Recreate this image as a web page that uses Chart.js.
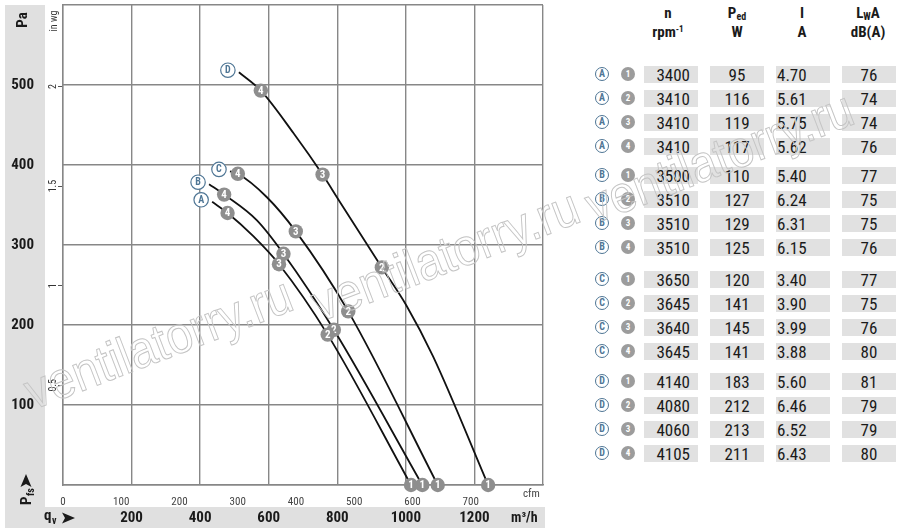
<!DOCTYPE html>
<html>
<head>
<meta charset="utf-8">
<title>Fan curves</title>
<script src="https://cdn.jsdelivr.net/npm/chart.js@4.4.1/dist/chart.umd.min.js"></script>
<style>
    html, body { margin: 0; padding: 0; background: #fff; }
    body {
        width: 900px; height: 528px; position: relative; overflow: hidden;
        font-family: 'Liberation Sans Narrow', 'Roboto Condensed', 'Liberation Sans', sans-serif;
        color: #1a1a1a;
    }
    #chartBox { position: absolute; left: 0; top: 0; width: 548px; height: 528px; }
    .hd { position: absolute; width: 70px; text-align: center; font-weight: bold; font-size: 15px; line-height: 19px; }
    .hd sup { font-size: 9px; vertical-align: 5px; line-height: 0; }
    .hd sub { font-size: 10px; vertical-align: -2px; line-height: 0; }
    .cell { position: absolute; width: 54px; height: 17px; background: #e1e1e1; font-size: 17px; line-height: 18px; box-sizing: border-box; }
    .mk { position: absolute; border-radius: 50%; box-sizing: border-box; text-align: center; font-weight: bold; }
    .mk.fan { width: 14px; height: 14px; border: 1.2px solid #4f7695; color: #4f7695; background: #fff; font-size: 10px; line-height: 12px; }
    .mk.op { width: 14px; height: 14px; background: #9c9c9c; color: #fff; font-size: 9px; line-height: 14px; }
    #wm { position: absolute; left: 0; top: 0; pointer-events: none; }
</style>
</head>
<body>
<div id="chartBox"><canvas id="fanChart"></canvas></div>
<div id="table"></div>
<svg id="wm" width="900" height="528">
    <g font-family="'Liberation Sans Narrow', 'Liberation Sans', sans-serif" font-size="52" fill="none" stroke="#c4c4c4" stroke-width="1">
        <text x="33" y="410" transform="rotate(-21 33 410)" textLength="282" lengthAdjust="spacingAndGlyphs">ventilatorry.ru</text>
        <text x="320" y="322" transform="rotate(-21 320 322)" textLength="282" lengthAdjust="spacingAndGlyphs">ventilatorry.ru</text>
        <text x="594" y="224" transform="rotate(-21 594 224)" textLength="282" lengthAdjust="spacingAndGlyphs">ventilatorry.ru</text>
    </g>
</svg>
<script>
// --- curves: flow q_v in m³/h, pressure p_fs in Pa
const curveFlowA = [435, 480, 555, 630, 772, 1015];
const curvePressA = [354, 340, 311, 276, 188, 0];
const curveFlowB = [426, 470, 565, 643, 790, 1048];
const curvePressB = [376, 363, 331, 289, 194, 0];
const curveFlowC = [487, 510, 594, 679, 832, 1093];
const curvePressC = [392, 389, 360, 317, 217, 0];
const curveFlowD = [513, 577, 672, 757, 803, 930, 1002, 1079, 1240];
const curvePressD = [516, 493, 440, 388, 357, 272, 224, 161, 0];

// operating points 1..4 on each curve
const opFlowA = [1015, 772, 630, 480];
const opPressA = [0, 188, 276, 340];
const opFlowB = [1048, 790, 643, 470];
const opPressB = [0, 194, 289, 363];
const opFlowC = [1093, 832, 679, 510];
const opPressC = [0, 217, 317, 389];
const opFlowD = [1240, 930, 757, 577];
const opPressD = [0, 272, 388, 493];

// axis ticks
const flowTicks = [200, 400, 600, 800, 1000, 1200];
const cfmTicks = [0, 100, 200, 300, 400, 500, 600, 700];
const pressTicks = [100, 200, 300, 400, 500];
const inwgTicks = [0.5, 1, 1.5, 2];

// table
const tableFans = ['A', 'A', 'A', 'A', 'B', 'B', 'B', 'B', 'C', 'C', 'C', 'C', 'D', 'D', 'D', 'D'];
const tablePoints = [1, 2, 3, 4, 1, 2, 3, 4, 1, 2, 3, 4, 1, 2, 3, 4];
const rpmValues = [3400, 3410, 3410, 3410, 3500, 3510, 3510, 3510, 3650, 3645, 3640, 3645, 4140, 4080, 4060, 4105];
const powerValues = [95, 116, 119, 117, 110, 127, 129, 125, 120, 141, 145, 141, 183, 212, 213, 211];
const currentValues = ['4.70', '5.61', '5.75', '5.62', '5.40', '6.24', '6.31', '6.15', '3.40', '3.90', '3.99', '3.88', '5.60', '6.46', '6.52', '6.43'];
const soundValues = [76, 74, 74, 76, 77, 75, 75, 76, 77, 75, 76, 80, 81, 79, 79, 80];

const FONT = "'Liberation Sans Narrow', 'Roboto Condensed', 'Liberation Sans', sans-serif";
const PA_PER_INWG = 249.089;
const M3H_PER_CFM = 1.69901;
const FLOW_MAX = 1400;
const PRESS_MAX = 600;

const curves = [
    { letter: 'A', flow: curveFlowA, press: curvePressA, opFlow: opFlowA, opPress: opPressA },
    { letter: 'B', flow: curveFlowB, press: curvePressB, opFlow: opFlowB, opPress: opPressB },
    { letter: 'C', flow: curveFlowC, press: curvePressC, opFlow: opFlowC, opPress: opPressC },
    { letter: 'D', flow: curveFlowD, press: curvePressD, opFlow: opFlowD, opPress: opPressD }
];

/**
 * Build the data table on the right
 */
function buildTable() {
    const table = document.getElementById('table');
    const headers = [
        { x: 668, html: 'n<br>rpm<sup>-1</sup>' },
        { x: 737, html: 'P<sub>ed</sub><br>W' },
        { x: 802, html: 'I<br>A' },
        { x: 868, html: 'L<sub>W</sub>A<br>dB(A)' }
    ];
    headers.forEach(h => {
        const d = document.createElement('div');
        d.className = 'hd';
        d.style.left = (h.x - 35) + 'px';
        d.style.top = '4px';
        d.innerHTML = h.html;
        table.appendChild(d);
    });

    const groupCentres = [74, 175, 279, 381];
    const cellLeft = [644, 710, 776, 842];
    const cellAlign = ['right', 'center', 'left', 'center'];
    const cellPad = ['0 8px 0 0', '0', '0 0 0 1px', '0'];

    tableFans.forEach((fan, i) => {
        const cy = groupCentres[Math.floor(i / 4)] + 24 * (i % 4);

        const fm = document.createElement('div');
        fm.className = 'mk fan';
        fm.style.left = (602 - 7) + 'px';
        fm.style.top = (cy - 7) + 'px';
        fm.textContent = fan;
        table.appendChild(fm);

        const om = document.createElement('div');
        om.className = 'mk op';
        om.style.left = (628 - 7) + 'px';
        om.style.top = (cy - 7) + 'px';
        om.textContent = tablePoints[i];
        table.appendChild(om);

        [rpmValues[i], powerValues[i], currentValues[i], soundValues[i]].forEach((v, c) => {
            const cell = document.createElement('div');
            cell.className = 'cell';
            cell.style.left = cellLeft[c] + 'px';
            cell.style.top = (cy - 8.5) + 'px';
            cell.style.textAlign = cellAlign[c];
            cell.style.padding = cellPad[c];
            cell.textContent = v;
            table.appendChild(cell);
        });
    });
}

function arrowHead(ctx, cx, cy, angle) {
    ctx.save();
    ctx.translate(cx, cy);
    ctx.rotate(angle);
    ctx.beginPath();
    ctx.moveTo(7, 0);
    ctx.lineTo(-6, -5.5);
    ctx.lineTo(-3, 0);
    ctx.lineTo(-6, 5.5);
    ctx.closePath();
    ctx.fillStyle = '#1a1a1a';
    ctx.fill();
    ctx.restore();
}

// no extra label padding at the ends of an axis
function noEndPadding(s) {
    s.paddingTop = 0;
    s.paddingBottom = 0;
    s.paddingLeft = 0;
    s.paddingRight = 0;
}

/**
 * Grey bands behind the Pa and m³/h labels
 */
const bandPlugin = {
    id: 'bands',
    beforeDraw(chart) {
        const ctx = chart.ctx;
        const xs = chart.scales.x;
        ctx.save();
        ctx.fillStyle = '#e0e0e0';
        ctx.fillRect(5, 5, 40, chart.height - 5);
        ctx.fillRect(5, xs.top + 1, 540, chart.height - xs.top - 1);
        ctx.restore();
    }
};

/**
 * Operating point markers, fan letters and axis captions
 */
const markerPlugin = {
    id: 'markers',
    afterDatasetsDraw(chart) {
        const ctx = chart.ctx;
        const xs = chart.scales.x;
        const ys = chart.scales.y;
        ctx.save();
        ctx.textAlign = 'center';
        ctx.textBaseline = 'middle';

        curves.forEach(c => {
            // fan letter at the start of the curve
            const sx = xs.getPixelForValue(c.flow[0]) - 11;
            const sy = ys.getPixelForValue(c.press[0]) - 2;
            ctx.beginPath();
            ctx.arc(sx, sy, 7.2, 0, Math.PI * 2);
            ctx.fillStyle = '#fff';
            ctx.fill();
            ctx.lineWidth = 1.2;
            ctx.strokeStyle = '#4f7695';
            ctx.stroke();
            ctx.fillStyle = '#4f7695';
            ctx.font = 'bold 10px ' + FONT;
            ctx.fillText(c.letter, sx, sy + 0.5);
        });

        curves.slice().reverse().forEach(c => {
            c.opFlow.forEach((f, i) => {
                const px = xs.getPixelForValue(f);
                const py = ys.getPixelForValue(c.opPress[i]);
                ctx.beginPath();
                ctx.arc(px, py, 7.2, 0, Math.PI * 2);
                ctx.fillStyle = '#8e8e8e';
                ctx.fill();
                ctx.fillStyle = '#fff';
                ctx.font = 'bold 11px ' + FONT;
                ctx.fillText(String(i + 1), px, py + 0.5);
            });
        });
        ctx.restore();
    },
    afterDraw(chart) {
        const ctx = chart.ctx;
        const yw = chart.scales.yInwg;
        ctx.save();
        ctx.fillStyle = '#1a1a1a';
        ctx.textAlign = 'center';
        ctx.textBaseline = 'middle';

        // in wg tick labels, rotated
        ctx.fillStyle = '#333';
        ctx.font = '10px ' + FONT;
        inwgTicks.forEach(v => {
            ctx.save();
            ctx.translate(53.5, yw.getPixelForValue(v));
            ctx.rotate(-Math.PI / 2);
            ctx.fillText(String(v), 0, 0);
            ctx.restore();
        });

        // axis captions
        ctx.save();
        ctx.translate(23, 20);
        ctx.rotate(-Math.PI / 2);
        ctx.fillStyle = '#1a1a1a';
        ctx.font = 'bold 15px ' + FONT;
        ctx.fillText('Pa', 0, 0);
        ctx.restore();

        ctx.save();
        ctx.translate(54, 21);
        ctx.rotate(-Math.PI / 2);
        ctx.fillStyle = '#333';
        ctx.font = '10px ' + FONT;
        ctx.fillText('in wg', 0, 0);
        ctx.restore();

        ctx.save();
        ctx.translate(27, 497);
        ctx.rotate(-Math.PI / 2);
        ctx.fillStyle = '#1a1a1a';
        ctx.textAlign = 'left';
        ctx.font = 'bold 15px ' + FONT;
        ctx.fillText('P', -8, 0);
        ctx.font = 'bold 10px ' + FONT;
        ctx.fillText('fs', 1, 4);
        ctx.restore();
        arrowHead(ctx, 26, 481, -Math.PI / 2);

        ctx.fillStyle = '#1a1a1a';
        ctx.textAlign = 'left';
        ctx.font = 'bold 15px ' + FONT;
        ctx.fillText('q', 44, 516);
        ctx.font = 'bold 10px ' + FONT;
        ctx.fillText('v', 52, 521);
        arrowHead(ctx, 68, 518, 0);

        ctx.font = 'bold 14px ' + FONT;
        ctx.fillText('m³/h', 511, 518);
        ctx.fillStyle = '#444';
        ctx.font = '11px ' + FONT;
        ctx.fillText('cfm', 523, 494);
        ctx.restore();
    }
};

function renderChart() {
    const ctx = document.getElementById('fanChart');
    Chart.defaults.font.family = FONT;

    const datasets = curves.map(c => ({
        label: c.letter,
        data: c.flow.map((f, i) => ({ x: f, y: c.press[i] })),
        showLine: true,
        borderColor: '#111',
        borderWidth: 1.8,
        pointRadius: 0,
        cubicInterpolationMode: 'monotone',
        fill: false
    }));

    const gridColor = '#878787';

    new Chart(ctx, {
        type: 'scatter',
        data: { datasets },
        options: {
            responsive: true,
            maintainAspectRatio: false,
            animation: false,
            events: [],
            layout: { padding: { top: 5, right: 5, left: 0, bottom: 0 } },
            plugins: { legend: { display: false }, tooltip: { enabled: false } },
            scales: {
                x: {
                    type: 'linear', position: 'bottom', weight: 2,
                    min: 0, max: FLOW_MAX,
                    afterBuildTicks: s => { s.ticks = [0].concat(flowTicks, [FLOW_MAX]).map(v => ({ value: v })); },
                    afterFit: s => { s.height = 22; noEndPadding(s); },
                    grid: { color: gridColor, lineWidth: 1.4, drawTicks: false },
                    border: { display: false },
                    ticks: {
                        autoSkip: false, maxRotation: 0, padding: 3,
                        color: '#1a1a1a', font: { size: 15, weight: 'bold' },
                        callback: v => flowTicks.includes(v) ? String(v) : ''
                    }
                },
                xCfm: {
                    type: 'linear', position: 'bottom', weight: 1,
                    min: 0, max: FLOW_MAX / M3H_PER_CFM,
                    afterBuildTicks: s => { s.ticks = cfmTicks.map(v => ({ value: v })); },
                    afterFit: s => { s.height = 21; noEndPadding(s); },
                    grid: { display: false },
                    border: { display: true, color: gridColor, width: 1.4 },
                    ticks: { autoSkip: false, maxRotation: 0, padding: 3, color: '#444', font: { size: 11 } }
                },
                y: {
                    type: 'linear', position: 'left', weight: 2,
                    min: 0, max: PRESS_MAX,
                    afterBuildTicks: s => { s.ticks = [0].concat(pressTicks, [PRESS_MAX]).map(v => ({ value: v })); },
                    afterFit: s => { s.width = 45; noEndPadding(s); },
                    grid: { color: gridColor, lineWidth: 1.4, drawTicks: false },
                    border: { display: false },
                    ticks: {
                        padding: 11, color: '#1a1a1a', font: { size: 15, weight: 'bold' },
                        callback: v => pressTicks.includes(v) ? String(v) : ''
                    }
                },
                yInwg: {
                    type: 'linear', position: 'left', weight: 1,
                    min: 0, max: PRESS_MAX / PA_PER_INWG,
                    afterBuildTicks: s => { s.ticks = inwgTicks.map(v => ({ value: v })); },
                    afterFit: s => { s.width = 18; noEndPadding(s); },
                    grid: { drawOnChartArea: false, drawTicks: true, tickLength: 5, color: '#555', lineWidth: 1 },
                    border: { display: true, color: gridColor, width: 1.4 },
                    ticks: { display: false }
                }
            }
        },
        plugins: [bandPlugin, markerPlugin]
    });
}

buildTable();
renderChart();
</script>
</body>
</html>
